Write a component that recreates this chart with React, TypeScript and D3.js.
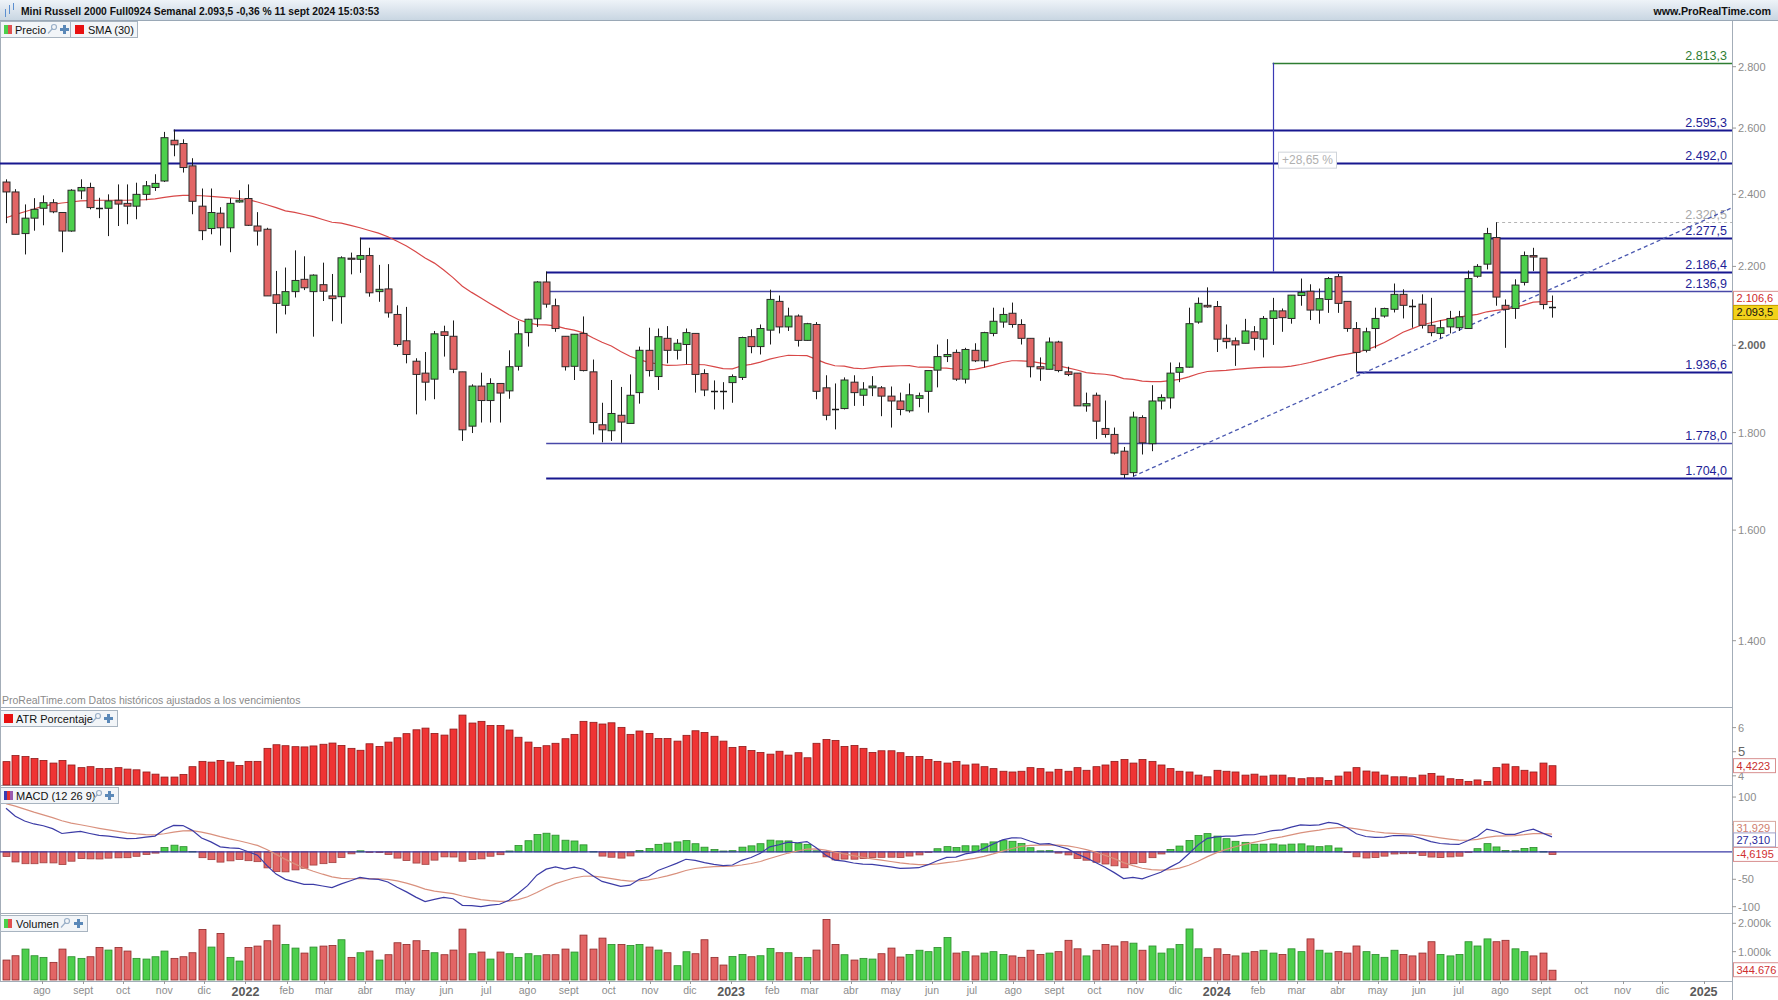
import React from "react";
import * as d3 from "d3";

// ---------- DATA (weekly candles, first week = 2021-07-05) ----------
const firstWeekStart = "2021-07-05";

const opens = [
  2436, 2407, 2289, 2332, 2360, 2376, 2348, 2296, 2410, 2420,
  2360, 2360, 2383, 2374, 2366, 2400, 2420, 2439, 2562, 2552,
  2484, 2366, 2303, 2346, 2305, 2378, 2388, 2310, 2301, 2126,
  2099, 2134, 2166, 2134, 2152, 2123, 2121, 2222, 2219, 2229,
  2134, 2141, 2076, 2011, 1962, 1934, 1920, 2033, 2022, 1937,
  1814, 1904, 1871, 1910, 1893, 1950, 2031, 2065, 2159, 2098,
  2022, 1950, 2029, 1937, 1817, 1804, 1838, 1820, 1889, 1988,
  1926, 2017, 1988, 2002, 2029, 1933, 1893, 1893, 1912, 1924,
  2021, 1997, 2037, 2109, 2045, 2072, 2012, 2051, 1900, 1853,
  1853, 1913, 1883, 1900, 1900, 1881, 1870, 1848, 1876, 1892,
  1941, 1973, 1983, 1920, 1988, 1963, 2029, 2057, 2079, 2051,
  2017, 1949, 1943, 2008, 1937, 1934, 1859, 1883, 1809, 1796,
  1760, 1715, 1833, 1776, 1870, 1877, 1936, 1948, 2057, 2099,
  2096, 2017, 2011, 2005, 2033, 2015, 2066, 2085, 2066, 2124,
  2135, 2087, 2114, 2173, 2109, 2041, 1988, 2041, 2072, 2089,
  2127, 2099, 2102, 2049, 2029, 2045, 2043, 2041, 2174, 2206,
  2278, 2099, 2091, 2158, 2229, 2222, 2094,
];
const highs = [
  2444, 2415, 2371, 2389, 2397, 2386, 2349, 2415, 2444, 2434,
  2390, 2400, 2429, 2429, 2434, 2439, 2459, 2588, 2595.3, 2565,
  2507, 2417, 2417, 2363, 2389, 2412, 2429, 2349, 2305, 2188,
  2197, 2243, 2227, 2179, 2210, 2180, 2227, 2237, 2277.5, 2250,
  2204, 2206, 2099, 2095, 1969, 1984, 2035, 2048, 2061, 1937,
  1908, 1935, 1922, 1910, 1988, 2060, 2065, 2161, 2186.4, 2116,
  2022, 2027, 2071, 1966, 1866, 1918, 1902, 1931, 1997, 2043,
  2041, 2047, 2015, 2041, 2029, 1943, 1917, 1913, 1931, 2021,
  2039, 2051, 2139, 2124, 2093, 2076, 2055, 2057, 1929, 1910,
  1924, 1929, 1913, 1927, 1904, 1903, 1889, 1910, 1889, 1940,
  2002, 2015, 1990, 1994, 2005, 2033, 2093, 2093, 2106, 2064,
  2017, 1971, 2019, 2011, 1949, 1934, 1889, 1889, 1871, 1811,
  1769, 1846, 1838, 1906, 1885, 1959, 1959, 2093, 2119, 2145,
  2110, 2051, 2019, 2065, 2047, 2072, 2118, 2091, 2125, 2168,
  2153, 2142, 2172, 2180, 2109, 2057, 2043, 2093, 2093, 2155,
  2140, 2114, 2127, 2118, 2062, 2085, 2085, 2189, 2206, 2305,
  2320.5, 2114, 2166, 2240, 2250, 2222, 2124,
];
const lows = [
  2318, 2287, 2232, 2297, 2312, 2346, 2238, 2294, 2386, 2357,
  2332, 2282, 2310, 2315, 2329, 2383, 2410, 2436, 2513, 2464,
  2343, 2271, 2287, 2256, 2238, 2376, 2310, 2256, 2123, 2029,
  2076, 2119, 2138, 2021, 2110, 2059, 2053, 2179, 2183, 2121,
  2108, 2068, 1997, 1957, 1840, 1871, 1874, 1973, 1934, 1782,
  1799, 1822, 1822, 1822, 1875, 1940, 1997, 2045, 2093, 2033,
  1940, 1918, 1938, 1796, 1779, 1782, 1778, 1820, 1864, 1926,
  1895, 1957, 1966, 1955, 1889, 1881, 1851, 1851, 1866, 1918,
  1981, 1978, 2002, 2029, 2035, 1997, 2011, 1874, 1827, 1807,
  1851, 1859, 1859, 1881, 1836, 1811, 1838, 1844, 1856, 1844,
  1901, 1960, 1916, 1910, 1960, 1947, 2022, 2043, 2043, 2002,
  1924, 1916, 1943, 1936, 1927, 1859, 1846, 1786, 1789, 1753,
  1704, 1707, 1753, 1760, 1851, 1853, 1913, 1947, 2053, 2093,
  1984, 1992, 1951, 2005, 1988, 1971, 2001, 2033, 2053, 2098,
  2062, 2053, 2080, 2080, 2033, 1937, 1983, 1993, 2068, 2081,
  2066, 2043, 2041, 2022, 2017, 2029, 2035, 2041, 2170, 2192,
  2098, 1994, 2065, 2150, 2188, 2089, 2068,
];
const closes = [
  2407, 2287, 2332, 2357, 2376, 2350, 2296, 2412, 2420, 2362,
  2360, 2381, 2372, 2366, 2400, 2425, 2432, 2570, 2548, 2479,
  2380, 2297, 2348, 2305, 2374, 2383, 2312, 2296, 2123, 2104,
  2134, 2163, 2144, 2177, 2135, 2116, 2223, 2219, 2229, 2131,
  2140, 2080, 2002, 1978, 1931, 1913, 2028, 2024, 1943, 1806,
  1904, 1871, 1910, 1888, 1949, 2028, 2064, 2159, 2102, 2041,
  1949, 2027, 1940, 1822, 1806, 1842, 1823, 1883, 1988, 1940,
  2021, 1988, 2005, 2031, 1931, 1895, 1893, 1893, 1926, 2019,
  1997, 2041, 2114, 2045, 2072, 2012, 2053, 1892, 1838, 1853,
  1918, 1889, 1897, 1904, 1881, 1870, 1851, 1884, 1882, 1940,
  1973, 1978, 1920, 1990, 1963, 2031, 2059, 2076, 2051, 2017,
  1949, 1944, 2008, 1940, 1931, 1859, 1864, 1825, 1796, 1756,
  1711, 1834, 1778, 1870, 1878, 1934, 1947, 2053, 2104, 2095,
  2015, 2009, 2001, 2035, 2017, 2066, 2085, 2068, 2125, 2132,
  2087, 2116, 2168, 2104, 2041, 1983, 2033, 2066, 2091, 2127,
  2099, 2097, 2049, 2031, 2043, 2066, 2070, 2168, 2200, 2289,
  2120, 2089, 2151, 2229, 2225, 2101, 2093.5,
];
// volume in thousands of contracts
const volumes = [
  704, 856, 1091, 856, 798, 622, 1091, 821, 763, 821,
  1150, 1056, 1150, 1021, 763, 739, 821, 1021, 763, 821,
  962, 1784, 1162, 1643, 798, 669, 1150, 1197, 1385, 1936,
  1255, 1126, 950, 1162, 1197, 1220, 1420, 798, 962, 1021,
  704, 892, 1314, 1255, 1385, 1044, 962, 892, 1056, 1795,
  927, 986, 739, 986, 927, 798, 927, 856, 892, 892,
  1091, 986, 1584, 1091, 1478, 1255, 1255, 1220, 1255, 1162,
  1056, 962, 505, 997, 927, 1420, 798, 528, 833, 903,
  821, 856, 1115, 962, 962, 798, 798, 1056, 2136, 1255,
  892, 704, 763, 739, 927, 1126, 810, 900, 1050, 1000,
  1150, 1500, 950, 1000, 850, 950, 1000, 900, 850, 800,
  1050, 900, 950, 1000, 1400, 1100, 850, 1050, 1250, 1200,
  1350, 1300, 1050, 1200, 950, 1100, 1250, 1800, 1100, 800,
  1100, 900, 850, 950, 1000, 1050, 950, 900, 1100, 1000,
  1450, 1050, 950, 1000, 950, 1200, 1000, 900, 800, 1050,
  900, 850, 950, 1350, 900, 850, 900, 1350, 1200, 1450,
  1350, 1400, 1100, 1000, 850, 950, 345,
];
const atrPct = [
  4.59, 4.84, 4.80, 4.72, 4.64, 4.53, 4.64, 4.45, 4.34, 4.38,
  4.30, 4.30, 4.34, 4.28, 4.25, 4.16, 4.07, 3.95, 3.95, 4.06,
  4.38, 4.60, 4.57, 4.64, 4.57, 4.43, 4.60, 4.60, 5.14, 5.29,
  5.25, 5.21, 5.20, 5.24, 5.31, 5.36, 5.26, 5.14, 5.06, 5.33,
  5.22, 5.40, 5.58, 5.75, 5.91, 5.98, 5.76, 5.69, 5.94, 6.52,
  6.19, 6.26, 6.09, 6.09, 5.90, 5.60, 5.40, 5.18, 5.25, 5.35,
  5.54, 5.72, 6.26, 6.22, 6.15, 6.20, 6.01, 5.72, 5.86, 5.76,
  5.55, 5.55, 5.44, 5.68, 5.87, 5.80, 5.64, 5.44, 5.18, 5.22,
  5.05, 4.97, 4.90, 5.02, 4.86, 4.96, 4.75, 5.35, 5.51, 5.47,
  5.22, 5.26, 5.14, 4.97, 5.04, 5.04, 4.96, 4.80, 4.80, 4.68,
  4.60, 4.53, 4.60, 4.45, 4.49, 4.38, 4.30, 4.19, 4.16, 4.19,
  4.34, 4.30, 4.16, 4.27, 4.19, 4.34, 4.23, 4.38, 4.45, 4.60,
  4.68, 4.53, 4.68, 4.60, 4.45, 4.30, 4.19, 4.16, 4.03, 3.96,
  4.23, 4.19, 4.16, 4.03, 4.07, 3.99, 4.03, 4.03, 3.92, 3.88,
  3.92, 3.92, 3.81, 3.99, 4.16, 4.34, 4.20, 4.16, 4.03, 3.96,
  3.96, 3.92, 4.03, 4.10, 3.99, 3.88, 3.85, 3.77, 3.83, 3.77,
  4.34, 4.49, 4.38, 4.23, 4.16, 4.53, 4.42,
];
// SMA(30) for the weeks before 30 closes are available
const smaEarly = [
  2333, 2342, 2350, 2358, 2366, 2371, 2375, 2378, 2381, 2382,
  2383, 2383, 2383, 2383, 2384, 2385, 2387, 2391, 2395, 2397,
  2397, 2396, 2394, 2392, 2390, 2388, 2385, 2378, 2370,
];
// MACD EMA states read at the first week
const macdSeedFast = 2395;
const macdSeedSlow = 2310;
const macdSeedSignal = 90;

// horizontal levels drawn on the chart
const levelValues = [2813.3, 2595.3, 2492.0, 2320.5, 2277.5, 2186.4, 2136.9, 1936.6, 1778.0, 1704.0];
const levelStartWeek = [136, 18, -1, 160, 38, 58, 58, 145, 58, 58];
const measureWeek = 136;
const measureFrom = 2186.4;
const measureTo = 2813.3;
const measureLabel = "+28,65 %";
const trendStart = { week: 121, price: 1707 };
const trendEnd = { week: 185.3, price: 2361 };

const priceTicks = [1400, 1600, 1800, 2000, 2200, 2400, 2600, 2800];
const atrTicks = [4, 5, 6];
const macdTicks = [100, 50, -50, -100];
const macdTickLabels = [100, -50, -100];
const volTicks = [1000, 2000];
const monthNames = ["ene", "feb", "mar", "abr", "may", "jun", "jul", "ago", "sept", "oct", "nov", "dic"];

const lastSma = 2106.6;
const lastPrice = 2093.5;
const lastAtr = 4.4223;
const lastSignal = 31.929;
const lastMacd = 27.31;
const lastHist = -4.6195;
const lastVolume = 344676;
const titleText = "Mini Russell 2000 Full0924 Semanal 2.093,5 -0,36 % 11 sept 2024 15:03:53";

// ---------- RENDER ----------
const FONT = "'Liberation Sans', Arial, Helvetica, sans-serif";
const es = d3.formatLocale({ decimal: ",", thousands: ".", grouping: [3], currency: ["", ""], minus: "-" } as any);
const f0 = es.format(",.0f");
const f1 = es.format(",.1f");
const f3 = es.format(",.3f");
const f4 = es.format(",.4f");

const GREEN = "#4ccf4c";
const RED = "#e26565";

export default function App() {
  const W = 1778, H = 1000;
  const PR = 1732;
  const P = { top: 21, priceBot: 707, atrBot: 785, macdBot: 913, volBot: 981 };
  const n = closes.length;
  const t0 = new Date(firstWeekStart + "T00:00:00").getTime();
  const weekDate = (w: number) => new Date(t0 + w * 7 * 86400000);
  const x = d3.scaleTime().domain([weekDate(0), weekDate(n - 1)]).range([6, 1552]);
  const xw = (w: number) => (w < 0 ? 0 : x(weekDate(w)));
  const y = d3.scaleLog().domain([1400, 2800]).range([640.7, 66.7]);
  const yAtr = d3.scaleLinear().domain([3.62, 6.855]).range([P.atrBot, P.priceBot]);
  const yMacd = d3.scaleLinear().domain([-111.5, 122]).range([P.macdBot, P.atrBot]);
  const yVol = d3.scaleLinear().domain([0, 2000]).range([980, 923.3]);

  const sma = closes.map((_, i) => (i < 29 ? smaEarly[i] : d3.mean(closes.slice(i - 29, i + 1)) as number));
  const ema = (arr: number[], len: number, seed: number) => {
    const a = 2 / (len + 1);
    let e = seed;
    return arr.map((v) => (e = e + a * (v - e)));
  };
  const e12 = ema(closes, 12, macdSeedFast);
  const e26 = ema(closes, 26, macdSeedSlow);
  const macd = e12.map((v, i) => v - e26[i]);
  const signal = ema(macd, 9, macdSeedSignal);
  const hist = macd.map((v, i) => v - signal[i]);

  const smaLine = d3.line<number>().x((_, i) => xw(i)).y((v) => y(v));
  const macdLine = d3.line<number>().x((_, i) => xw(i)).y((v) => yMacd(v));

  const months = d3.timeMonth.range(new Date(2021, 7, 1), new Date(2025, 1, 1));
  const bw = 7;
  const cxr = (i: number) => Math.round(xw(i)) + 0.5;

  const levelStyle = (v: number) => {
    if (v === 2813.3) return { stroke: "#2e7d32", w: 1.6, dash: undefined, text: "#2e7d32" };
    if (v === 2320.5) return { stroke: "#b4b4b4", w: 1, dash: "3 3", text: "#a8a8a8" };
    if (v === 2136.9 || v === 1778.0) return { stroke: "#4848a8", w: 1.3, dash: undefined, text: "#1e1e96" };
    return { stroke: "#17178f", w: 2.2, dash: undefined, text: "#1e1e96" };
  };

  const valueBox = (yc: number, text: string, color: string, fill: string, border: string, key: string) => (
    <g key={key}>
      <rect x={1733.5} y={yc - 7} width={text.length * 6 + 6} height={14} fill={fill} stroke={border} strokeWidth={1} />
      <text x={1736.5} y={yc + 4} fontSize={11} fill={color}>{text}</text>
    </g>
  );

  const wrench = (xx: number, yy: number) => (
    <g stroke="#9ab0c8" strokeWidth={1.2} fill="none">
      <circle cx={xx + 6} cy={yy + 2.5} r={2.5} />
      <line x1={xx + 4.5} y1={yy + 4} x2={xx} y2={yy + 9} />
    </g>
  );
  const plus = (xx: number, yy: number) => (
    <g stroke="#5a88b8" strokeWidth={3}>
      <line x1={xx} y1={yy + 4.5} x2={xx + 9} y2={yy + 4.5} />
      <line x1={xx + 4.5} y1={yy} x2={xx + 4.5} y2={yy + 9} />
    </g>
  );

  return (
    <svg width={W} height={H} style={{ position: "absolute", left: 0, top: 0, background: "#fff" }} fontFamily={FONT}>
      <defs>
        <linearGradient id="hdr" x1="0" y1="0" x2="0" y2="1">
          <stop offset="0" stopColor="#eef3f8" />
          <stop offset="1" stopColor="#c9d6e2" />
        </linearGradient>
        <clipPath id="cPrice"><rect x={0} y={P.top} width={PR} height={P.priceBot - P.top} /></clipPath>
        <clipPath id="cMacd"><rect x={0} y={P.atrBot} width={PR} height={P.macdBot - P.atrBot} /></clipPath>
      </defs>
      <rect x={0} y={0} width={W} height={H} fill="#fff" />

      {/* header */}
      <rect x={0} y={0} width={W} height={20} fill="url(#hdr)" />
      <line x1={0} x2={W} y1={20.5} y2={20.5} stroke="#9aa8b6" />
      <g>
        <line x1={5.5} x2={5.5} y1={9} y2={17} stroke="#5b8fd0" />
        <line x1={9.5} x2={9.5} y1={5} y2={14} stroke="#5b8fd0" />
        <line x1={13.5} x2={13.5} y1={3} y2={10} stroke="#5b8fd0" />
      </g>
      <text x={21} y={14.5} fontSize={10.3} fontWeight="bold" fill="#111">{titleText}</text>
      <text x={1771} y={14.5} fontSize={10.7} fontWeight="bold" fill="#111" textAnchor="end">www.ProRealTime.com</text>

      {/* panel frames */}
      <g stroke="#a3adb8" strokeWidth={1}>
        <line x1={0.5} x2={0.5} y1={21} y2={P.volBot} />
        <line x1={PR + 0.5} x2={PR + 0.5} y1={21} y2={H} />
        <line x1={0} x2={PR} y1={P.priceBot + 0.5} y2={P.priceBot + 0.5} />
        <line x1={0} x2={PR} y1={P.atrBot + 0.5} y2={P.atrBot + 0.5} />
        <line x1={0} x2={PR} y1={P.macdBot + 0.5} y2={P.macdBot + 0.5} />
        <line x1={0} x2={PR} y1={P.volBot + 0.5} y2={P.volBot + 0.5} />
      </g>

      {/* price panel */}
      <g clipPath="url(#cPrice)">
        {levelValues.map((v, k) => {
          const s = levelStyle(v);
          const yy = Math.round(y(v)) + 0.5;
          return (
            <g key={"lv" + k}>
              <line x1={xw(levelStartWeek[k])} x2={PR} y1={yy} y2={yy} stroke={s.stroke} strokeWidth={s.w} strokeDasharray={s.dash} />
              <text x={1727} y={yy - 4} fontSize={12.5} fill={s.text} textAnchor="end">{f1(v)}</text>
            </g>
          );
        })}
        <line x1={cxr(measureWeek)} x2={cxr(measureWeek)} y1={y(measureTo)} y2={y(measureFrom)} stroke="#3a3ab4" strokeWidth={1.2} />
        <g>
          <rect x={cxr(measureWeek) + 5} y={y(Math.sqrt(measureFrom * measureTo)) - 15} width={58} height={16} fill="#fff" stroke="#cfd4da" />
          <text x={cxr(measureWeek) + 34} y={y(Math.sqrt(measureFrom * measureTo)) - 3} fontSize={12} fill="#b0b0b0" textAnchor="middle">{measureLabel}</text>
        </g>
        <line x1={xw(trendStart.week)} y1={y(trendStart.price)} x2={xw(trendEnd.week)} y2={y(trendEnd.price)} stroke="#4a58b0" strokeWidth={1.3} strokeDasharray="4 3" />
        <path d={smaLine(sma) as string} fill="none" stroke="#d84848" strokeWidth={1.2} />
        {closes.map((c, i) => {
          const o = opens[i];
          const cx = cxr(i);
          const doji = Math.abs(c - o) <= 2;
          const up = c > o;
          const yt = y(Math.max(o, c));
          const yb = y(Math.min(o, c));
          return (
            <g key={"c" + i}>
              <line x1={cx} x2={cx} y1={y(highs[i])} y2={y(lows[i])} stroke="#1c1c1c" strokeWidth={1} />
              {doji ? (
                <line x1={cx - bw / 2} x2={cx + bw / 2} y1={Math.round(y(c)) + 0.5} y2={Math.round(y(c)) + 0.5} stroke="#1c1c1c" strokeWidth={1.5} />
              ) : (
                <rect x={cx - bw / 2} y={yt} width={bw} height={Math.max(1, yb - yt)} fill={up ? GREEN : RED} stroke="#2a2a2a" strokeWidth={1} />
              )}
            </g>
          );
        })}
      </g>
      <text x={2} y={704} fontSize={10.5} fill="#8a8a8a">ProRealTime.com Datos históricos ajustados a los vencimientos</text>

      {/* ATR panel */}
      {atrPct.map((v, i) => (
        <rect key={"a" + i} x={cxr(i) - bw / 2} y={yAtr(v)} width={bw} height={P.atrBot - yAtr(v)} fill="#ef3434" stroke="#8e1a1a" strokeWidth={0.8} />
      ))}

      {/* MACD panel */}
      <g clipPath="url(#cMacd)">
        {hist.map((v, i) => {
          const y0 = yMacd(0), y1 = yMacd(v);
          return (
            <rect key={"h" + i} x={cxr(i) - bw / 2} y={Math.min(y0, y1)} width={bw} height={Math.max(0.5, Math.abs(y1 - y0))}
              fill={v >= 0 ? GREEN : RED} stroke={v >= 0 ? "#2c8a2c" : "#a04040"} strokeWidth={0.8} />
          );
        })}
        <line x1={0} x2={PR} y1={yMacd(0)} y2={yMacd(0)} stroke="#3a3aa6" strokeWidth={1.2} />
        <path d={macdLine(signal) as string} fill="none" stroke="#d9917e" strokeWidth={1.2} />
        <path d={macdLine(macd) as string} fill="none" stroke="#3c3ca6" strokeWidth={1.2} />
      </g>

      {/* Volume panel */}
      {volumes.map((v, i) => {
        const up = closes[i] > opens[i];
        return (
          <rect key={"v" + i} x={cxr(i) - bw / 2} y={yVol(v)} width={bw} height={980 - yVol(v)}
            fill={up ? GREEN : RED} stroke={up ? "#2c8a2c" : "#8e2a2a"} strokeWidth={0.8} />
        );
      })}

      {/* legends */}
      <g>
        <rect x={0.5} y={21.5} width={137} height={16} fill="#f2f5f8" stroke="#a8b4c0" />
        <rect x={4} y={25} width={4} height={9} fill="#4ccf4c" />
        <rect x={8} y={25} width={4} height={9} fill="#e05050" />
        <text x={15} y={33.5} fontSize={11} fill="#111">Precio</text>
        {wrench(48, 24.5)}
        {plus(60, 25)}
        <line x1={70.5} x2={70.5} y1={22} y2={37} stroke="#a8b4c0" />
        <rect x={75} y={25} width={9} height={9} fill="#e81010" />
        <text x={88} y={33.5} fontSize={11} fill="#111">SMA (30)</text>
      </g>
      <g>
        <rect x={0.5} y={710.5} width={117} height={16} fill="#f2f5f8" stroke="#a8b4c0" />
        <rect x={4} y={714} width={9} height={9} fill="#e81010" />
        <text x={16} y={722.5} fontSize={11} fill="#111">ATR Porcentaje</text>
        {wrench(92, 713.5)}
        {plus(104, 714)}
      </g>
      <g>
        <rect x={0.5} y={787.5} width={118} height={16} fill="#f2f5f8" stroke="#a8b4c0" />
        <rect x={4} y={791} width={3} height={9} fill="#3a3ab0" />
        <rect x={7} y={791} width={3} height={9} fill="#e03030" />
        <rect x={10} y={791} width={3} height={9} fill="#9a5ab0" />
        <text x={16} y={799.5} fontSize={11} fill="#111">MACD (12 26 9)</text>
        {wrench(93, 790.5)}
        {plus(105, 791)}
      </g>
      <g>
        <rect x={0.5} y={915.5} width={87} height={16} fill="#f2f5f8" stroke="#a8b4c0" />
        <rect x={4} y={919} width={4} height={9} fill="#4ccf4c" />
        <rect x={8} y={919} width={4} height={9} fill="#e05050" />
        <text x={16} y={927.5} fontSize={11} fill="#111">Volumen</text>
        {wrench(61, 918.5)}
        {plus(74, 919)}
      </g>

      {/* right axes */}
      <g fontSize={11} fill="#8c8c8c">
        {priceTicks.map((t) => (
          <g key={"pt" + t}>
            <line x1={PR} x2={PR + 4} y1={y(t)} y2={y(t)} stroke="#999" />
            <text x={PR + 6} y={y(t) + 4} fontWeight={t === 2000 ? "bold" : "normal"} fill={t === 2000 ? "#666" : "#8c8c8c"}>{f0(t)}</text>
          </g>
        ))}
        {atrTicks.map((t) => (
          <g key={"at" + t}>
            <line x1={PR} x2={PR + 4} y1={yAtr(t)} y2={yAtr(t)} stroke="#999" />
            <text x={PR + 6} y={yAtr(t) + 4} fontSize={t === 5 ? 13 : 11} fill={t === 5 ? "#666" : "#8c8c8c"}>{f0(t)}</text>
          </g>
        ))}
        {macdTicks.map((t) => (
          <line key={"mt" + t} x1={PR} x2={PR + 4} y1={yMacd(t)} y2={yMacd(t)} stroke="#999" />
        ))}
        {macdTickLabels.map((t) => (
          <text key={"ml" + t} x={PR + 6} y={yMacd(t) + 4}>{f0(t)}</text>
        ))}
        {volTicks.map((t) => (
          <g key={"vt" + t}>
            <line x1={PR} x2={PR + 4} y1={yVol(t)} y2={yVol(t)} stroke="#999" />
            <text x={PR + 6} y={yVol(t) + 4}>{f0(t) + "k"}</text>
          </g>
        ))}
      </g>

      {/* last value boxes */}
      {valueBox(y(lastSma) - 4, f1(lastSma), "#d02828", "#fff", "#d89090", "bs")}
      {valueBox(y(lastPrice) + 5, f1(lastPrice), "#111", "#f2d21b", "#c8a400", "bp")}
      {valueBox(yAtr(lastAtr), f4(lastAtr), "#c83030", "#fff", "#d89090", "ba")}
      {valueBox(yMacd(lastSignal) - 6, f3(lastSignal), "#d08070", "#fff", "#d8a8a0", "bsg")}
      {valueBox(yMacd(lastMacd) + 3, f3(lastMacd), "#2a2a9a", "#fff", "#a0a0c8", "bm")}
      {valueBox(yMacd(lastHist), f4(lastHist), "#d03030", "#fff", "#d89090", "bh")}
      {valueBox(yVol(lastVolume / 1000) - 0.5, f0(lastVolume), "#d03030", "#fff", "#d89090", "bv")}

      {/* date axis */}
      <g>
        {months.map((m, k) => {
          const xx = x(m);
          if (xx < 15 || xx > PR - 10) return null;
          const isYear = m.getMonth() === 0;
          return (
            <g key={"m" + k}>
              <line x1={Math.round(xx) + 0.5} x2={Math.round(xx) + 0.5} y1={P.volBot} y2={P.volBot + 3} stroke="#999" />
              <text x={xx} y={isYear ? 995.5 : 994} textAnchor="middle" fontSize={isYear ? 12.5 : 10.5}
                fontWeight={isYear ? "bold" : "normal"} fill={isYear ? "#5a5a5a" : "#8c8c8c"}>
                {isYear ? String(m.getFullYear()) : monthNames[m.getMonth()]}
              </text>
            </g>
          );
        })}
      </g>
    </svg>
  );
}
